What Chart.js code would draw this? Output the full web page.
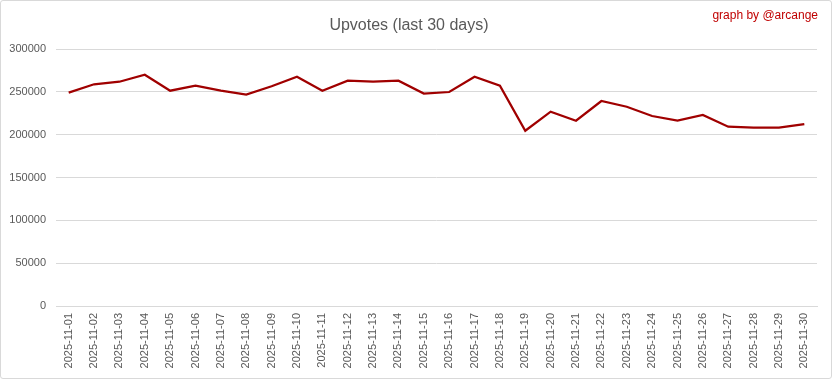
<!DOCTYPE html>
<html>
<head>
<meta charset="utf-8">
<script src="https://cdn.jsdelivr.net/npm/chart.js@4/dist/chart.umd.min.js"></script>
<style>
  html, body { margin:0; padding:0; background:#fff; }
  #box { position:relative; width:832px; height:379px; box-sizing:border-box; border:1px solid #d9d9d9; border-radius:3px; background:#fff; overflow:hidden; }
  #chart { position:absolute; left:0; top:0; }
  #credit { position:absolute; right:13px; top:7px; font:12px "Liberation Sans", Arial, sans-serif; color:#c00000; }
</style>
</head>
<body>
<div id="box">
  <canvas id="chart" width="830" height="377"></canvas>
  <div id="credit">graph by @arcange</div>
</div>
<script>
const dates = [
  "2025-11-01","2025-11-02","2025-11-03","2025-11-04","2025-11-05","2025-11-06","2025-11-07","2025-11-08","2025-11-09","2025-11-10",
  "2025-11-11","2025-11-12","2025-11-13","2025-11-14","2025-11-15","2025-11-16","2025-11-17","2025-11-18","2025-11-19","2025-11-20",
  "2025-11-21","2025-11-22","2025-11-23","2025-11-24","2025-11-25","2025-11-26","2025-11-27","2025-11-28","2025-11-29","2025-11-30"
];
const upvotes = [
  249000, 258800, 261800, 270000, 251300, 257200, 251300, 246700, 256500, 267700,
  251300, 263000, 261800, 263000, 248000, 249800, 267700, 257200, 204600, 226800,
  216300, 239300, 232600, 221800, 216300, 223000, 209300, 208100, 208100, 212400
];
const yMin = 0, yMax = 300000, yStep = 50000;

const grey = "#595959";
const gridCol = "#d9d9d9";
const font = "'Liberation Sans', Arial, sans-serif";

new Chart(document.getElementById("chart"), {
  type: "line",
  data: {
    labels: dates,
    datasets: [{
      label: "Upvotes",
      data: upvotes,
      borderColor: "#a00000",
      backgroundColor: "#a00000",
      borderWidth: 2.25,
      pointRadius: 0,
      tension: 0,
      fill: false
    }]
  },
  options: {
    responsive: false,
    animation: false,
    layout: { padding: { left: 0, right: 14, top: 0, bottom: 0 } },
    plugins: {
      legend: { display: false },
      tooltip: { enabled: false },
      title: {
        display: true,
        text: "Upvotes (last 30 days)",
        color: grey,
        font: { family: font, size: 16, weight: "normal" },
        padding: { top: 15, bottom: 13.8 }
      }
    },
    scales: {
      x: {
        offset: true,
        grid: { display: false, drawTicks: false },
        border: { display: true, color: gridCol, width: 1 },
        ticks: {
          color: grey, font: { family: font, size: 11 },
          minRotation: 90, maxRotation: 90, autoSkip: false, padding: 7
        },
        afterFit: s => { s.height = 72; }
      },
      y: {
        min: yMin, max: yMax,
        grid: { color: gridCol, drawTicks: false },
        border: { display: false },
        ticks: {
          stepSize: yStep, color: grey, font: { family: font, size: 11 }, padding: 10,
          callback: v => String(v)
        },
        afterFit: s => { s.width = 55; }
      }
    }
  }
});
</script>
</body>
</html>
